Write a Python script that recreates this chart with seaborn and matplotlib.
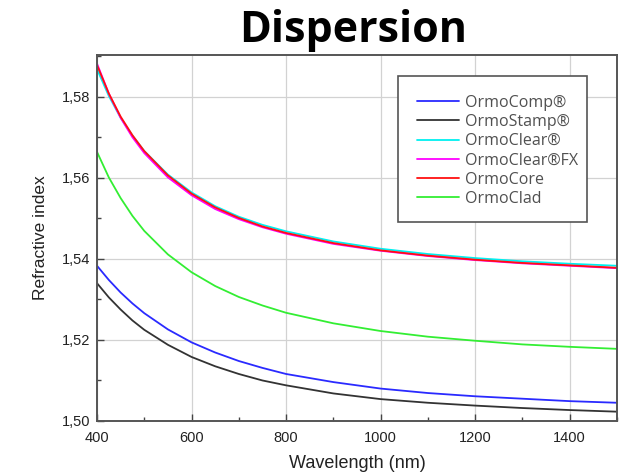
import matplotlib
matplotlib.use("Agg")
import matplotlib.pyplot as plt
from matplotlib.patches import Rectangle
from matplotlib.ticker import FuncFormatter, MultipleLocator
import pandas as pd
import seaborn as sns

# Sampling wavelengths (nm)
wavelength_nm = [400, 425, 450, 475, 500, 550, 600, 650, 700, 750,
                 800, 900, 1000, 1100, 1200, 1300, 1400, 1500]

# Refractive index of each material at the wavelengths above
ormocomp = [1.5383, 1.5348, 1.5317, 1.5290, 1.5266, 1.5226, 1.5194, 1.5169, 1.5148,
            1.5131, 1.5116, 1.5096, 1.5080, 1.5069, 1.5061, 1.5055, 1.5049, 1.5045]
ormostamp = [1.5340, 1.5305, 1.5275, 1.5248, 1.5225, 1.5188, 1.5158, 1.5135, 1.5116,
             1.5100, 1.5088, 1.5068, 1.5054, 1.5045, 1.5038, 1.5032, 1.5027, 1.5023]
ormoclear = [1.5868, 1.5802, 1.5748, 1.5704, 1.5666, 1.5608, 1.5564, 1.5530, 1.5504,
             1.5484, 1.5468, 1.5443, 1.5425, 1.5412, 1.5402, 1.5394, 1.5388, 1.5383]
ormoclear_fx = [1.5882, 1.5808, 1.5748, 1.5700, 1.5661, 1.5601, 1.5557, 1.5523, 1.5498,
                1.5478, 1.5462, 1.5437, 1.5420, 1.5407, 1.5397, 1.5389, 1.5383, 1.5377]
ormocore = [1.5878, 1.5808, 1.5751, 1.5705, 1.5666, 1.5606, 1.5561, 1.5527, 1.5501,
            1.5480, 1.5464, 1.5439, 1.5421, 1.5408, 1.5398, 1.5390, 1.5384, 1.5378]
ormoclad = [1.5664, 1.5601, 1.5550, 1.5506, 1.5469, 1.5411, 1.5367, 1.5333, 1.5306,
            1.5285, 1.5267, 1.5241, 1.5222, 1.5208, 1.5198, 1.5189, 1.5183, 1.5178]

materials = ["OrmoComp®", "OrmoStamp®", "OrmoClear®", "OrmoClear®FX", "OrmoCore", "OrmoClad"]
series = [ormocomp, ormostamp, ormoclear, ormoclear_fx, ormocore, ormoclad]
line_colors = ["#2a2aff", "#333333", "#00f0f0", "#ff00ff", "#ff1010", "#33ee33"]

x_ticks = [400, 600, 800, 1000, 1200, 1400]
y_ticks = [1.50, 1.52, 1.54, 1.56, 1.58]

df = pd.DataFrame(
    [(name, w, n) for name, vals in zip(materials, series) for w, n in zip(wavelength_nm, vals)],
    columns=["Material", "Wavelength", "n"],
)

sns.set_theme(style="white")
plt.rcParams["font.family"] = ["Liberation Sans", "DejaVu Sans"]

fig = plt.figure(figsize=(6.28, 4.72), dpi=100)
ax = fig.add_axes([97 / 628, 51 / 472, 520 / 628, 366 / 472])

sns.lineplot(
    data=df, x="Wavelength", y="n", hue="Material", hue_order=materials,
    palette=dict(zip(materials, line_colors)), linewidth=1.3, errorbar=None,
    legend=False, ax=ax,
)

ax.set_xlim(400, 1500)
ax.set_ylim(1.50, 1.5903)
ax.set_xticks(x_ticks)
ax.set_yticks(y_ticks)
ax.xaxis.set_minor_locator(MultipleLocator(100))
ax.yaxis.set_minor_locator(MultipleLocator(0.01))
ax.yaxis.set_major_formatter(FuncFormatter(lambda v, _: f"{v:.2f}".replace(".", ",")))
ax.xaxis.set_major_formatter(FuncFormatter(lambda v, _: f"{v:.0f}"))

ax.grid(True, which="major", color="#d2d2d2", linewidth=0.9)
ax.set_axisbelow(True)
for sp in ax.spines.values():
    sp.set_color("#555555")
    sp.set_linewidth(1.4)

ax.tick_params(which="major", direction="in", length=5, width=1, color="#444444",
               labelsize=10.5, labelcolor="#222222")
ax.tick_params(which="minor", direction="in", length=3, width=1, color="#444444")
ax.tick_params(axis="y", which="both", left=True, pad=5)
ax.tick_params(axis="x", which="both", bottom=True, pad=7)

ax.set_xlabel("Wavelength (nm)", fontsize=13, color="#222222", va="center")
ax.set_ylabel("Refractive index", fontsize=12.5, color="#222222", va="center")
ax.xaxis.set_label_coords(0.5, -0.1148)
ax.yaxis.set_label_coords(-0.1096, 0.5)

# Legend: white boxed panel with handles and labels inside
ax.add_patch(Rectangle((0.579, 0.5437), 0.363, 0.399, transform=ax.transAxes,
                       facecolor="white", edgecolor="#555555", linewidth=1.2, zorder=4))
handles = [plt.Line2D([], [], color=c, linewidth=1.3) for c in line_colors]
ax.legend(handles, materials, loc="upper left", bbox_to_anchor=(0.6154, 0.8913),
          frameon=False, borderpad=0, borderaxespad=0, handlelength=2.6,
          handletextpad=0.4, labelspacing=0.2, labelcolor="#505050",
          prop={"family": "Open Sans", "size": 11.5}).set_zorder(5)

fig.text(353 / 628, 430 / 472, "Dispersion", ha="center", va="baseline",
         fontfamily="Open Sans", fontweight="bold", fontsize=31, color="black")

fig.savefig("out.png", dpi=100)
